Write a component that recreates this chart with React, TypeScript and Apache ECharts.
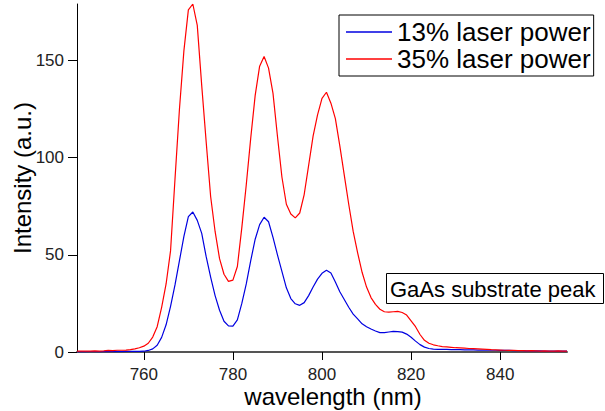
import React, { useEffect, useRef } from "react";
import * as echarts from "echarts";

const wavelengths: number[] = [];
for (let w = 745; w <= 855; w++) wavelengths.push(w);

const power35: number[] = [
  0.4, 0.5, 0.4, 0.5, 0.6, 0.5, 0.6, 0.8, 0.7, 0.9, // 745-754
  0.9, 1.0, 1.2, 1.6, 2.2, 3.0, 4.5, 7.7, 13, 23, // 755-764
  35, 52, 89, 125, 155, 176, 179, 168, 137, 108, // 765-774
  80, 62, 48, 40, 36.3, 37, 44, 64, 86, 110, // 775-784
  132, 147, 152, 146, 133, 111, 90, 76, 71, 69, // 785-794
  71.5, 81, 96, 111, 122, 130.5, 133.6, 128, 120, 106, // 795-804
  91, 76, 62, 51, 41, 33.4, 28, 24.5, 22, 20.7, // 805-814
  20.5, 20.7, 20.9, 20.3, 19, 16, 13, 9, 6, 4.5, // 815-824
  3.7, 3.2, 2.8, 2.6, 2.4, 2.2, 2.1, 2.0, 1.8, 1.7, // 825-834
  1.6, 1.5, 1.4, 1.2, 1.1, 1.0, 0.9, 0.8, 0.8, 0.7, // 835-844
  0.7, 0.6, 0.7, 0.6, 0.5, 0.6, 0.5, 0.5, 0.6, 0.5, // 845-854
  0.5, // 855
];

const power13: number[] = [
  0.1, 0.2, 0.1, 0.2, 0.2, 0.1, 0.2, 0.2, 0.2, 0.3, // 745-754
  0.2, 0.3, 0.3, 0.3, 0.3, 0.4, 0.8, 1.6, 3.5, 7.5, // 755-764
  14, 23.5, 34.5, 47, 59.5, 69.6, 72, 67.7, 61, 49, // 765-774
  38.5, 29, 21.5, 15.8, 13.4, 13.3, 16.5, 25, 35, 47, // 775-784
  58, 65.5, 69.3, 67, 59, 50, 41.5, 33, 27.5, 24.8, // 785-794
  24, 25.4, 29, 33.4, 37.5, 40.5, 42, 40.6, 36, 31, // 795-804
  27, 23, 19.5, 17, 14.5, 13, 11.8, 10.8, 10, 10, // 805-814
  10.3, 10.6, 10.5, 10.2, 9.2, 7.6, 5.6, 3.8, 2.5, 1.8, // 815-824
  1.5, 1.4, 1.3, 1.3, 1.2, 1.2, 1.2, 1.1, 1.1, 1.1, // 825-834
  1.0, 1.0, 0.9, 0.9, 0.9, 0.8, 0.8, 0.8, 0.7, 0.7, // 835-844
  0.7, 0.6, 0.6, 0.6, 0.6, 0.5, 0.5, 0.5, 0.5, 0.5, // 845-854
  0.5, // 855
];

const xTicks = [760, 780, 800, 820, 840];
const yTicks = [0, 50, 100, 150];
const seriesNames = ["13% laser power", "35% laser power"];
const annotation = "GaAs substrate peak";
const xTitle = "wavelength (nm)";
const yTitle = "Intensity (a.u.)";

const FONT = "'Liberation Sans', Arial, sans-serif";

export default function App() {
  const ref = useRef<HTMLDivElement>(null);
  useEffect(() => {
    document.body.style.margin = "0";
    if (!ref.current) return;
    const chart = echarts.init(ref.current, undefined, { renderer: "svg" });
    const pair = (ys: number[]) => wavelengths.map((w, i) => [w, ys[i]]);
    chart.setOption({
      animation: false,
      grid: { left: 77, right: 38, top: 4, bottom: 59 },
      xAxis: {
        type: "value",
        min: 745,
        max: 855,
        splitLine: { show: false },
        axisLine: { show: true, lineStyle: { color: "#555", width: 2 } },
        axisTick: {
          show: true,
          customValues: xTicks,
          length: 8,
          lineStyle: { color: "#000", width: 1 },
        },
        axisLabel: {
          customValues: xTicks,
          margin: 14,
          fontSize: 17,
          color: "#222",
          fontFamily: FONT,
        },
      },
      yAxis: {
        type: "value",
        min: 0,
        max: 179,
        splitLine: { show: false },
        axisLine: { show: true, lineStyle: { color: "#000", width: 1 } },
        axisTick: {
          show: true,
          customValues: yTicks,
          length: 9,
          lineStyle: { color: "#000", width: 1 },
        },
        axisLabel: {
          customValues: yTicks,
          margin: 13,
          fontSize: 17,
          color: "#222",
          fontFamily: FONT,
        },
      },
      legend: {
        orient: "vertical",
        left: 339,
        top: 15,
        padding: [4, 3, 4, 7],
        itemGap: 1,
        itemWidth: 46,
        itemHeight: 1.5,
        itemTextGap: 12,
        icon: "rect",
        borderColor: "#000",
        borderWidth: 1,
        textStyle: { fontSize: 26, lineHeight: 26, color: "#000", fontFamily: FONT },
        data: seriesNames,
      },
      series: [
        {
          name: seriesNames[0],
          type: "line",
          data: pair(power13),
          symbol: "none",
          lineStyle: { color: "#0000e0", width: 1.2 },
          itemStyle: { color: "#0000e0" },
        },
        {
          name: seriesNames[1],
          type: "line",
          data: pair(power35),
          symbol: "none",
          lineStyle: { color: "#ff0000", width: 1.2 },
          itemStyle: { color: "#ff0000" },
        },
      ],
      graphic: [
        {
          type: "rect",
          shape: { x: 386.5, y: 273.5, width: 217, height: 30 },
          style: { fill: "#fff", stroke: "#000", lineWidth: 1 },
          z: 10,
        },
        {
          type: "text",
          x: 390,
          y: 289,
          style: {
            text: annotation,
            fontSize: 22,
            fontFamily: FONT,
            fill: "#000",
            verticalAlign: "middle",
          },
          z: 11,
        },
        {
          type: "text",
          x: 333,
          y: 396,
          style: {
            text: xTitle,
            fontSize: 24,
            fontFamily: FONT,
            fill: "#000",
            align: "center",
            verticalAlign: "middle",
          },
        },
        {
          type: "text",
          x: 22,
          y: 178,
          rotation: Math.PI / 2,
          style: {
            text: yTitle,
            fontSize: 24,
            fontFamily: FONT,
            fill: "#000",
            align: "center",
            verticalAlign: "middle",
          },
        },
      ],
    });
    return () => chart.dispose();
  }, []);
  return <div ref={ref} style={{ width: 605, height: 411 }} />;
}
